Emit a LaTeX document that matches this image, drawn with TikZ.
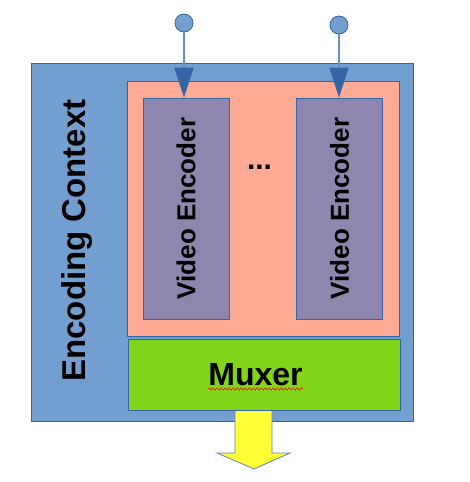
\documentclass[tikz,border=0pt]{standalone}
\usepackage{fontspec}
\setmainfont{Liberation Sans}
\usepackage{xcolor}
\usetikzlibrary{arrows.meta,positioning,decorations.pathmorphing}

\definecolor{ctxblue}{HTML}{729FCF}
\definecolor{edgeblue}{HTML}{3465A4}
\definecolor{poolred}{HTML}{FFAA95}
\definecolor{encpurple}{HTML}{8E86AE}
\definecolor{muxgreen}{HTML}{81D41A}
\definecolor{outyellow}{HTML}{FFFF38}

\begin{document}
\begin{tikzpicture}[x=1pt, y=-1pt, line width=0.8pt,
    box/.style={draw=edgeblue, inner sep=0pt},
    enc/.style={box, fill=encpurple, minimum width=86pt, minimum height=221pt,
        font=\bfseries\fontsize{26}{30}\selectfont},
    port/.style={circle, draw=edgeblue, fill=ctxblue, minimum size=18pt, inner sep=0pt},
    feed/.style={draw=ctxblue!75!edgeblue, line width=1.6pt,
        -{Triangle[width=19pt, length=30pt, color=edgeblue]}}]
    \useasboundingbox (0,0) rectangle (470,482);

    \node (Ctx) [box, fill=ctxblue, minimum width=382pt, minimum height=358pt] at (222,242) {};
    \node (CtxLabel) [font=\bfseries\fontsize{33}{36}\selectfont] at (77,240.5) {\rotatebox{90}{Encoding Context}};
    \node (Pool) [box, fill=poolred, minimum width=272pt, minimum height=255pt] at (263,208.5) {};

    \node (EncA) [enc] at (186,208.5) {\rotatebox{90}{Video Encoder}};
    \node (EncB) [enc] at (339.5,208.5) {\rotatebox{90}{Video Encoder}};
    \node (Dots) [font=\bfseries\fontsize{30}{34}\selectfont, anchor=base] at (259.5,169) {...};

    \node (InA) [port] at (184,23) {};
    \node (InB) [port] at (339,25) {};
    \draw[feed] (InA) -- (InA |- EncA.north);
    \draw[feed] (InB) -- (InB |- EncB.north);

    % output arrow below the muxer
    \filldraw[draw=edgeblue!80, fill=outyellow] (235,410) -- (235,453) -- (217,453)
        -- (254,469) -- (290,453) -- (272,453) -- (272,410) -- cycle;

    \node (Mux) [box, fill=muxgreen, minimum width=272pt, minimum height=71pt,
        font=\bfseries\fontsize{32}{36}\selectfont] at (264,374.5) {Muxer\kern17pt};
    \draw[red, line width=0.6pt, decorate,
        decoration={snake, amplitude=1.1pt, segment length=4pt}] (208,389) -- (303,389);
\end{tikzpicture}
\end{document}
